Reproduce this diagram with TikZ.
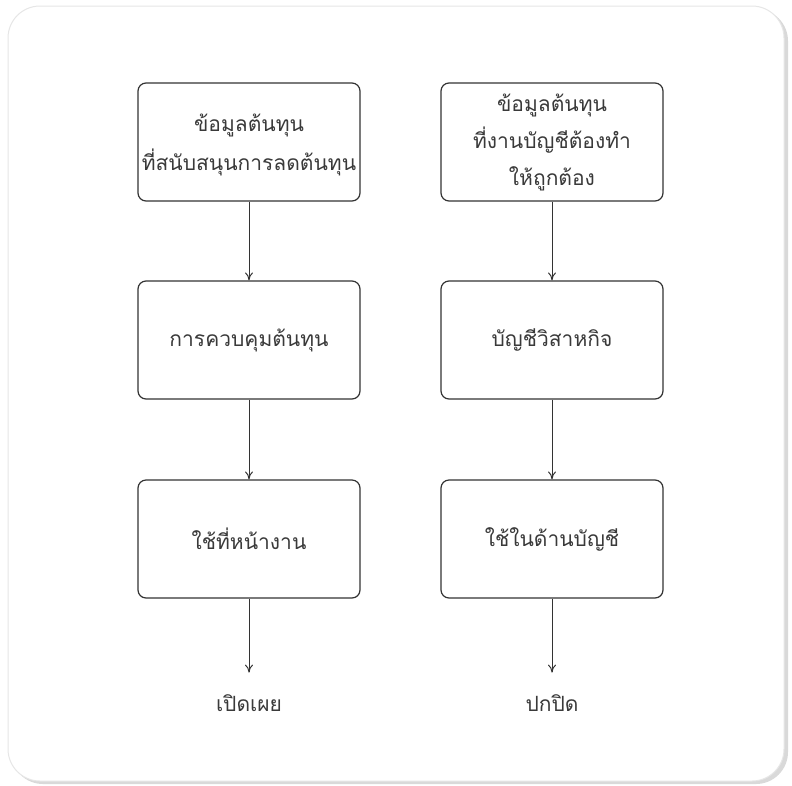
\documentclass[tikz,border=0pt]{standalone}
\usepackage{fontspec}
\newfontfamily\thaifont[Script=Thai]{Loma}
\usetikzlibrary{arrows.meta}
\definecolor{ink}{HTML}{333333}
\definecolor{txtc}{HTML}{3A3A3A}
\definecolor{frameline}{HTML}{E6E6E6}
\definecolor{shadowc}{HTML}{D9D9D9}
\tikzset{
  box/.style={draw=ink, line width=1.2pt, rounded corners=8pt, minimum width=222pt, minimum height=118pt, align=center, text=txtc, font=\thaifont\fontsize{21}{37}\selectfont, inner sep=0pt},
  lbl/.style={text=txtc, font=\thaifont\fontsize{21}{37}\selectfont, inner sep=0pt},
  conn/.style={draw=ink, line width=1pt, -{To[length=8pt,width=8pt]}}
}
\begin{document}
\begin{tikzpicture}[x=1pt,y=-1pt]
\useasboundingbox (0,0) rectangle (792,785);
\fill[shadowc, rounded corners=32pt] (11,9) rectangle (788,784);
\filldraw[fill=white, draw=frameline, line width=1pt, rounded corners=32pt] (8,6) rectangle (784,781);
\node[box, text depth=-4pt] (a1) at (249,142) {ข้อมูลต้นทุน\\[2pt]ที่สนับสนุนการลดต้นทุน};
\node[box] (a2) at (249,340) {การควบคุมต้นทุน};
\node[box] (a3) at (249,539) {ใช้ที่หน้างาน};
\node[lbl] (a4) at (249,703) {เปิดเผย};
\node[box] (b1) at (552,142) {ข้อมูลต้นทุน\\ที่งานบัญชีต้องทำ\\ให้ถูกต้อง};
\node[box] (b2) at (552,340) {บัญชีวิสาหกิจ};
\node[box] (b3) at (552,539) {ใช้ในด้านบัญชี};
\node[lbl] (b4) at (552,703) {ปกปิด};
\draw[conn] (a1) -- (a2);
\draw[conn] (a2) -- (a3);
\draw[conn] (a3.south) -- ++(0,74) coordinate (ae);
\draw[conn] (b1) -- (b2);
\draw[conn] (b2) -- (b3);
\draw[conn] (b3.south) -- ++(0,74) coordinate (be);
\end{tikzpicture}
\end{document}
